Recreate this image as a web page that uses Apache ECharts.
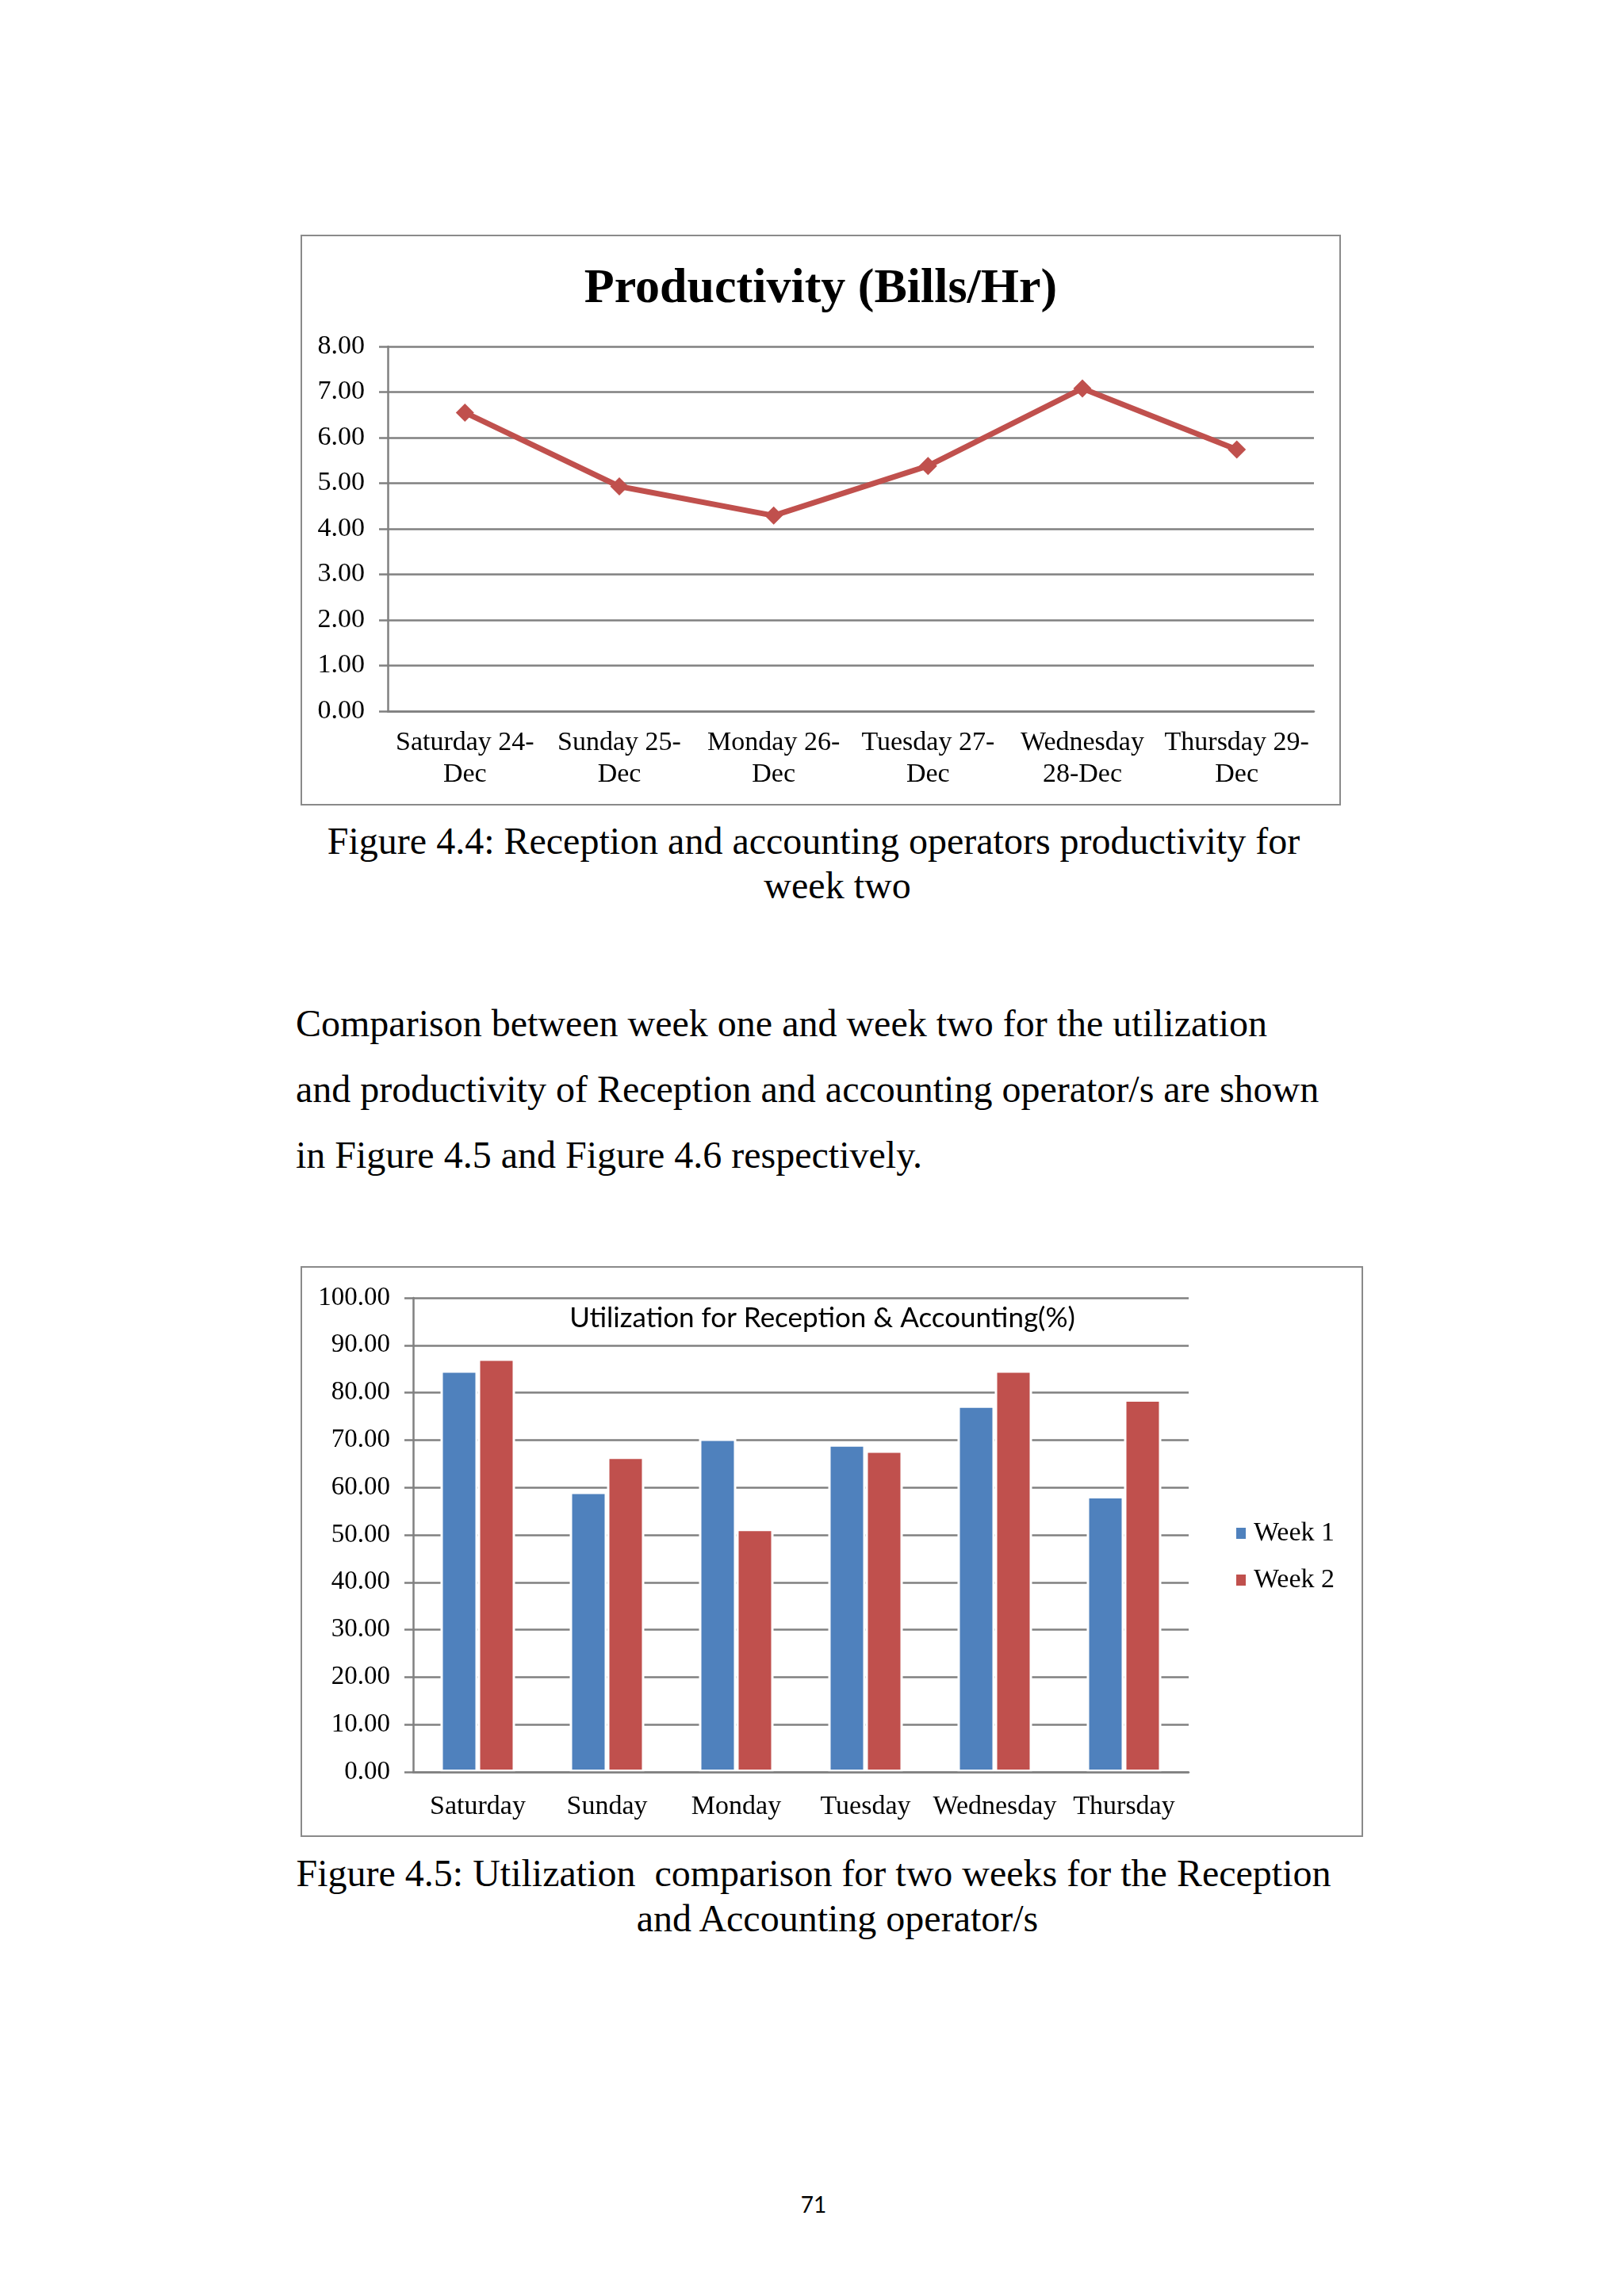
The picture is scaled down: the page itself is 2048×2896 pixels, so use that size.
<!DOCTYPE html>
<html>
<head>
<meta charset="utf-8">
<title>Productivity and utilization - week two</title>
<script src="https://cdn.jsdelivr.net/npm/echarts@6.0.0/dist/echarts.min.js"></script>
<style>
  body { margin: 0; background: #fff; }
  #page { position: relative; width: 2048px; height: 2896px; background: #fff;
          font-family: 'Liberation Serif', 'Times New Roman', serif; color: #000; }
  .box { position: absolute; box-sizing: border-box; border: 2px solid #8a8a8a; background: #fff; }
  .txt { position: absolute; white-space: pre; font-size: 48px; line-height: 48px; }
  .mid { width: 1400px; text-align: center; }
</style>
</head>
<body>
<div id="page">
  <div id="prodChart" class="box" style="left:379px; top:296px; width:1312px; height:720px;"></div>

  <div class="txt mid" style="left:326px; top:1037px;">Figure 4.4: Reception and accounting operators productivity for</div>
  <div class="txt mid" style="left:356px; top:1093px;">week two</div>

  <div class="txt" style="left:373px; top:1267px;">Comparison between week one and week two for the utilization</div>
  <div class="txt" style="left:373px; top:1350px;">and productivity of Reception and accounting operator/s are shown</div>
  <div class="txt" style="left:373px; top:1433px;">in Figure 4.5 and Figure 4.6 respectively.</div>

  <div id="utilChart" class="box" style="left:379px; top:1597px; width:1340px; height:720px;"></div>

  <div class="txt mid" style="left:326px; top:2339px;">Figure 4.5: Utilization  comparison for two weeks for the Reception</div>
  <div class="txt mid" style="left:356px; top:2396px;">and Accounting operator/s</div>

  <div class="txt mid" style="left:326px; top:2766px; font-family:Lato, 'Open Sans', sans-serif; font-size:28px; line-height:28px;">71</div>
</div>

<script>
// Figure 4.4 - productivity of week two
var dayLabels = ['Saturday 24-\nDec', 'Sunday 25-\nDec', 'Monday 26-\nDec', 'Tuesday 27-\nDec', 'Wednesday\n28-Dec', 'Thursday 29-\nDec'];
var productivity = [6.55, 4.93, 4.29, 5.38, 7.08, 5.74];

// Figure 4.5 - utilization, week one vs week two
var weekDays = ['Saturday', 'Sunday', 'Monday', 'Tuesday', 'Wednesday', 'Thursday'];
var week1 = [84.7, 59.1, 70.3, 69.1, 77.3, 58.2];
var week2 = [87.2, 66.5, 51.3, 67.8, 84.7, 78.6];

var serif = "'Liberation Serif', 'Times New Roman', serif";
var gray = '#808080';

function productivityChart(idDiv) {
    var chart = echarts.init(document.getElementById(idDiv));
    var option = {
        animation: false,
        title: {
            text: 'Productivity (Bills/Hr)',
            left: 'center',
            top: 31,
            textStyle: { fontFamily: serif, fontWeight: 'bold', fontSize: 62, color: '#000' }
        },
        grid: { left: 108, top: 139, width: 1168, height: 460 },
        xAxis: {
            type: 'category',
            data: dayLabels,
            axisLine: { lineStyle: { color: gray, width: 2.5 } },
            axisTick: { length: 11, lineStyle: { color: gray, width: 2.5 } },
            axisLabel: { fontFamily: serif, fontSize: 34, lineHeight: 40, color: '#000', margin: 20, interval: 0 }
        },
        yAxis: {
            type: 'value',
            min: 0,
            max: 8,
            interval: 1,
            axisLine: { show: true, lineStyle: { color: gray, width: 2.5 } },
            axisTick: { show: true, length: 11, lineStyle: { color: gray, width: 2.5 } },
            splitLine: { lineStyle: { color: gray, width: 2.5 } },
            axisLabel: {
                fontFamily: serif, fontSize: 34, color: '#000', margin: 29,
                formatter: function (v) { return v.toFixed(2); }
            }
        },
        series: [
            {
                name: 'Productivity',
                type: 'line',
                data: productivity,
                symbol: 'diamond',
                symbolSize: 23,
                lineStyle: { color: '#C0504D', width: 7 },
                itemStyle: { color: '#C0504D' }
            }
        ]
    };
    chart.setOption(option);
}

function utilizationChart(idDiv) {
    var chart = echarts.init(document.getElementById(idDiv));
    var barStyle = function (c) {
        return { color: c, borderColor: '#fff', borderWidth: 3 };
    };
    var option = {
        animation: false,
        graphic: [
            {
                type: 'text',
                x: 656,
                y: 64,
                style: {
                    text: 'Utilization for Reception & Accounting(%)',
                    font: '35px Lato, "Open Sans", sans-serif',
                    fill: '#000',
                    align: 'center',
                    verticalAlign: 'middle'
                },
                z: 10
            }
        ],
        legend: {
            orient: 'vertical',
            left: 1171,
            top: 313,
            icon: 'rect',
            itemWidth: 14,
            itemHeight: 16,
            itemGap: 25,
            textStyle: { fontFamily: serif, fontSize: 34, color: '#000', padding: [0, 0, 0, 4] },
            data: ['Week 1', 'Week 2']
        },
        grid: { left: 140, top: 38, width: 978, height: 598 },
        xAxis: {
            type: 'category',
            data: weekDays,
            z: 3,
            axisLine: { lineStyle: { color: gray, width: 2.5 } },
            axisTick: { length: 11, lineStyle: { color: gray, width: 2.5 } },
            axisLabel: { fontFamily: serif, fontSize: 34, color: '#000', margin: 27, interval: 0 }
        },
        yAxis: {
            type: 'value',
            min: 0,
            max: 100,
            interval: 10,
            axisLine: { show: true, lineStyle: { color: gray, width: 2.5 } },
            axisTick: { show: true, length: 11, lineStyle: { color: gray, width: 2.5 } },
            splitLine: { lineStyle: { color: gray, width: 2.5 } },
            axisLabel: {
                fontFamily: serif, fontSize: 33, color: '#000', margin: 29,
                formatter: function (v) { return v.toFixed(2); }
            }
        },
        series: [
            {
                name: 'Week 1',
                type: 'bar',
                data: week1,
                barWidth: 47,
                barGap: '0%',
                itemStyle: barStyle('#4F81BD')
            },
            {
                name: 'Week 2',
                type: 'bar',
                data: week2,
                barWidth: 47,
                itemStyle: barStyle('#C0504D')
            }
        ]
    };
    chart.setOption(option);
}

productivityChart('prodChart');
utilizationChart('utilChart');
</script>
</body>
</html>
